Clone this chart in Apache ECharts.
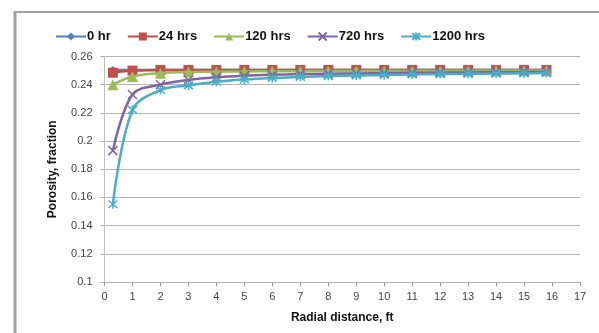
<!DOCTYPE html>
<html><head><meta charset="utf-8">
<script src="https://cdn.jsdelivr.net/npm/echarts@6/dist/echarts.min.js"></script>
<style>html,body{margin:0;padding:0;background:#fff}#c{width:599px;height:333px}</style>
</head><body><div id="c"></div>
<script>
var xs = [0.3,1,2,3,4,5,6,7,8,9,10,11,12,13,14,15,15.8];
var names = ['0 hr','24 hrs','120 hrs','720 hrs','1200 hrs'];
var hr0 = [0.2505,0.2505,0.2505,0.2505,0.2505,0.2505,0.2505,0.2505,0.2505,0.2505,0.2505,0.2505,0.2505,0.2505,0.2505,0.2505,0.2505];
var hr24 = [0.2485,0.25,0.2505,0.2505,0.2505,0.2505,0.2505,0.2505,0.2505,0.2505,0.2505,0.2505,0.2505,0.2505,0.2505,0.2505,0.2505];
var hr120 = [0.2400,0.2458,0.2482,0.2490,0.2492,0.2494,0.2495,0.2496,0.2497,0.2497,0.2498,0.2498,0.2498,0.2499,0.2499,0.2499,0.2499];
var hr720 = [0.1932,0.2330,0.2400,0.2433,0.2452,0.2463,0.2470,0.2475,0.2478,0.2480,0.2482,0.2484,0.2486,0.2487,0.2488,0.2489,0.2490];
var hr1200 = [0.1552,0.2221,0.2362,0.2395,0.2421,0.2437,0.2448,0.2455,0.2461,0.2465,0.2469,0.2472,0.2475,0.2477,0.2479,0.2481,0.2483];
var xTicks = {min:0, max:17, step:1};
var yTicks = {min:0.1, max:0.26, step:0.02};

var colors = ['#4f81bd','#c0504d','#9bbb59','#8064a2','#4bacc6'];
var vals = [hr0,hr24,hr120,hr720,hr1200];
var symbols = ['diamond','rect','triangle','path://M0,0L10,10M10,0L0,10','path://M0,0L10,10M10,0L0,10M5,-1L5,11'];
var sizes = [8,10,11,9,9];
function pairs(v){ return xs.map(function(x,i){ return [x, v[i]]; }); }
var series = names.map(function(n,i){
  var stroked = i >= 3;
  return {
    name:n, type:'line', smooth:0.35, data:pairs(vals[i]),
    symbol:symbols[i], symbolSize:sizes[i], showSymbol:true,
    lineStyle:{color:colors[i], width:2.5},
    itemStyle: stroked ? {color:'rgba(0,0,0,0)', borderColor:colors[i], borderWidth:1.5} : {color:colors[i]},
    z: 2+i
  };
});
var chart = echarts.init(document.getElementById('c'));
chart.setOption({
  animation:false,
  backgroundColor:'#fff',
  graphic:[
    {type:'line', shape:{x1:15,y1:11,x2:15,y2:333}, style:{stroke:'#a0a0a0', lineWidth:3}},
    {type:'line', shape:{x1:14,y1:12,x2:599,y2:12}, style:{stroke:'#a0a0a0', lineWidth:2}}
  ],
  legend:{
    top:25, left:50, itemWidth:30, itemHeight:10, itemGap:16,
    textStyle:{fontFamily:'Liberation Sans', fontWeight:'bold', fontSize:13, color:'#111', padding:[0,0,0,-4]},
    data:names
  },
  grid:{left:104.5, right:19, top:56.5, bottom:51},
  xAxis:{
    type:'value', min:xTicks.min, max:xTicks.max, interval:xTicks.step,
    name:'Radial distance, ft', nameLocation:'middle', nameGap:30,
    nameTextStyle:{fontFamily:'Liberation Sans', fontWeight:'bold', fontSize:12, color:'#111'},
    axisLine:{lineStyle:{color:'#b0b0b0'}},
    axisTick:{show:true, length:4, lineStyle:{color:'#999'}},
    axisLabel:{fontFamily:'Liberation Sans', fontSize:11, color:'#444', margin:9},
    splitLine:{show:false}
  },
  yAxis:{
    type:'value', min:yTicks.min, max:yTicks.max, interval:yTicks.step,
    name:'Porosity, fraction', nameLocation:'middle', nameGap:46,
    nameTextStyle:{fontFamily:'Liberation Sans', fontWeight:'bold', fontSize:12, color:'#111'},
    axisLine:{show:true, lineStyle:{color:'#c0c0c0'}},
    axisTick:{show:true, length:4, lineStyle:{color:'#aaa'}},
    axisLabel:{fontFamily:'Liberation Sans', fontSize:11, color:'#444', margin:12,
      formatter:function(v){ return String(+v.toFixed(2)); }},
    splitLine:{lineStyle:{color:'#b4b4b4', width:1}}
  },
  series:series
});
</script></body></html>
